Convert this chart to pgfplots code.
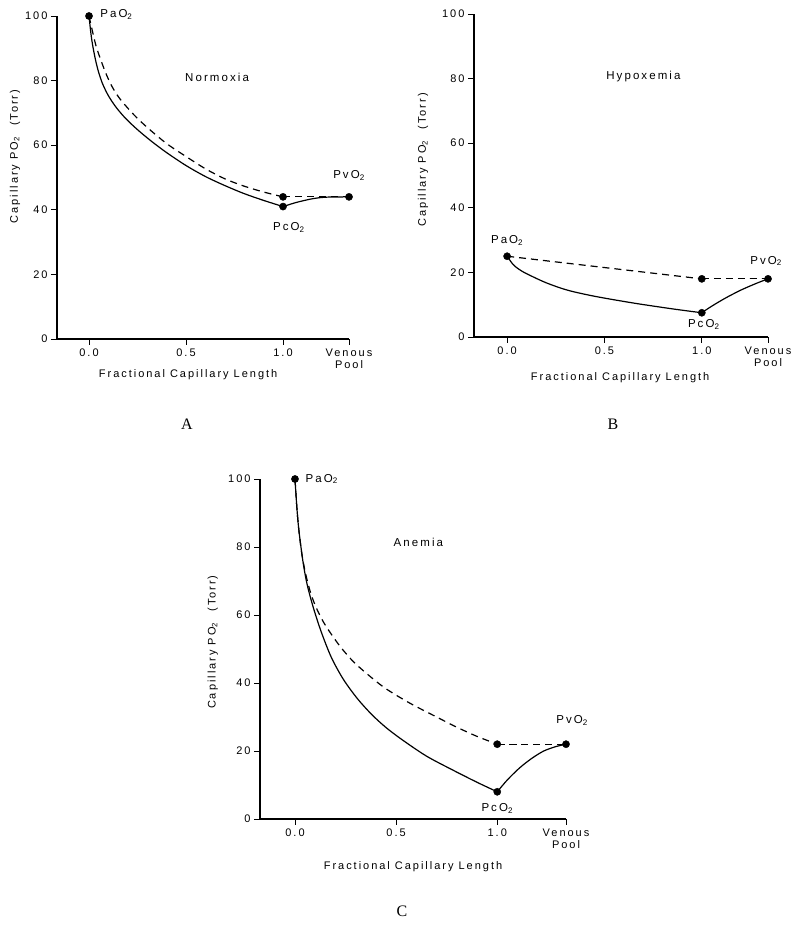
\documentclass[border=0pt]{standalone}
\usepackage{fontspec}
\setmainfont{Liberation Sans}[LetterSpace=18]
\newfontfamily\serfont{Liberation Serif}
\usepackage{pgfplots}
\pgfplotsset{compat=1.18}

\tikzset{txt/.style={font=\fontsize{11.5}{13}\selectfont}}
\pgfplotsset{
 panel/.style={
  scale only axis,
  axis x line*=bottom, axis y line*=left,
  axis line style={-, line width=1.2pt},
  ymin=0, ymax=100, ytick={0,20,40,60,80,100},
  xtick={0,0.5,1,1.34}, xticklabels={0.0,0.5,1.0,{Venous\\Pool}},
  tick align=outside, major tick length=6pt, tick style={line width=0.9pt, black},
  ticklabel style={font=\fontsize{11}{12}\selectfont},
  x tick label style={align=center},
  /pgf/number format/assume math mode=true,
  label style={font=\fontsize{11}{13}\selectfont},
  ylabel={Capillary PO\textsubscript{2}\quad(Torr)},
  xlabel={Fractional Capillary Length},
  clip=false,
 },
 sol/.style={black, line width=1.2pt, smooth, no markers},
 das/.style={black, line width=1.2pt, dash pattern=on 7pt off 5pt, smooth, no markers},
 dots/.style={only marks, mark=*, mark size=3.6pt, black},
}

\begin{document}
\begin{tikzpicture}
\path (0pt,0pt) rectangle (799pt,925pt);

% ---------------- Panel A ----------------
\begin{axis}[panel, at={(57pt,586pt)}, anchor=south west, width=292pt, height=323pt,
  xmin=-0.165, xmax=1.34,
  ylabel style={at={(axis description cs:-0.144,0.565)}, anchor=center},
  xlabel style={at={(axis description cs:0.449,0)}, anchor=center, yshift=-36pt}]
\addplot[sol] coordinates {(0,100) (0.01,94.5) (0.02,90.5) (0.035,86) (0.05,82.5) (0.07,79) (0.1,75.3) (0.14,71.7) (0.19,68.2) (0.25,64.8) (0.32,61.3) (0.4,57.7) (0.5,53.7) (0.6,50.3) (0.7,47.5) (0.8,45) (0.9,42.9) (1.0,41)};
\addplot[sol] coordinates {(1.0,41) (1.07,42.3) (1.15,43.4) (1.22,43.9) (1.34,44)};
\addplot[das] coordinates {(0,100) (0.015,96) (0.035,91) (0.06,86.5) (0.09,81.8) (0.12,78) (0.16,74.3) (0.23,69.5) (0.3,65.5) (0.4,60.5) (0.5,56.5) (0.6,52.7) (0.7,49.6) (0.8,47.3) (0.9,45.5) (1.0,44)};
\addplot[das] coordinates {(1.0,44) (1.34,44)};
\addplot[dots] coordinates {(0,100) (1,44) (1,41) (1.34,44)};
\node[txt, anchor=west] at (axis cs:0.04,100.5) {PaO\textsubscript{2}};
\node[txt] at (axis cs:0.66,81) {Normoxia};
\node[txt] at (axis cs:1.34,50.5) {PvO\textsubscript{2}};
\node[txt] at (axis cs:1.03,34.5) {PcO\textsubscript{2}};
\end{axis}

% ---------------- Panel B ----------------
\begin{axis}[panel, at={(474pt,588pt)}, anchor=south west, width=294pt, height=323pt,
  xmin=-0.17, xmax=1.34,
  ylabel style={at={(axis description cs:-0.173,0.548)}, anchor=center},
  xlabel style={at={(axis description cs:0.497,0)}, anchor=center, yshift=-41pt}]
\addplot[sol] coordinates {(0,25) (0.03,22.5) (0.06,21) (0.1,19.6) (0.2,16.8) (0.31,14.5) (0.45,12.6) (0.65,10.5) (0.85,8.7) (1.0,7.5)};
\addplot[sol] coordinates {(1.0,7.5) (1.05,9.5) (1.12,12) (1.2,14.5) (1.28,16.6) (1.34,18)};
\addplot[das] coordinates {(0,25) (1.0,18)};
\addplot[das] coordinates {(1.0,18) (1.34,18)};
\addplot[dots] coordinates {(0,25) (1,18) (1,7.5) (1.34,18)};
\node[txt] at (axis cs:0,30) {PaO\textsubscript{2}};
\node[txt] at (axis cs:0.70,80.5) {Hypoxemia};
\node[txt] at (axis cs:1.33,23.5) {PvO\textsubscript{2}};
\node[txt] at (axis cs:1.01,3.8) {PcO\textsubscript{2}};
\end{axis}

% ---------------- Panel C ----------------
\begin{axis}[panel, at={(260pt,106pt)}, anchor=south west, width=306pt, height=340pt,
  xmin=-0.173, xmax=1.34,
  ylabel style={at={(axis description cs:-0.154,0.52)}, anchor=center},
  xlabel style={at={(axis description cs:0.5,0)}, anchor=center, yshift=-48pt}]
\addplot[sol] coordinates {(0,100) (0.01,91) (0.02,84.5) (0.04,75.5) (0.06,69) (0.09,62.3) (0.13,55) (0.18,47.5) (0.24,41) (0.31,35.3) (0.38,30.7) (0.45,26.9) (0.53,23.3) (0.65,18.5) (0.78,14.4) (0.9,10.8) (1.0,8)};
\addplot[sol] coordinates {(1.0,8) (1.05,11.5) (1.11,15) (1.17,17.8) (1.23,20) (1.29,21.3) (1.34,22)};
\addplot[das] coordinates {(0,100) (0.01,91) (0.02,84.5) (0.035,77.5) (0.055,71.5) (0.08,66) (0.11,61.5) (0.15,57) (0.22,51) (0.29,46.2) (0.37,42) (0.45,38.3) (0.57,34) (0.7,30) (0.8,27) (0.9,24.3) (1.0,22)};
\addplot[das] coordinates {(1.0,22) (1.34,22)};
\addplot[dots] coordinates {(0,100) (1,22) (1,8) (1.34,22)};
\node[txt, anchor=west] at (axis cs:0.035,100) {PaO\textsubscript{2}};
\node[txt] at (axis cs:0.61,81.5) {Anemia};
\node[txt] at (axis cs:1.37,29) {PvO\textsubscript{2}};
\node[txt] at (axis cs:1.0,3) {PcO\textsubscript{2}};
\end{axis}

\node[font=\serfont\fontsize{16}{18}\selectfont] at (187pt,501pt) {A};
\node[font=\serfont\fontsize{16}{18}\selectfont] at (613pt,501pt) {B};
\node[font=\serfont\fontsize{16}{18}\selectfont] at (402pt,14pt) {C};
\end{tikzpicture}
\end{document}
